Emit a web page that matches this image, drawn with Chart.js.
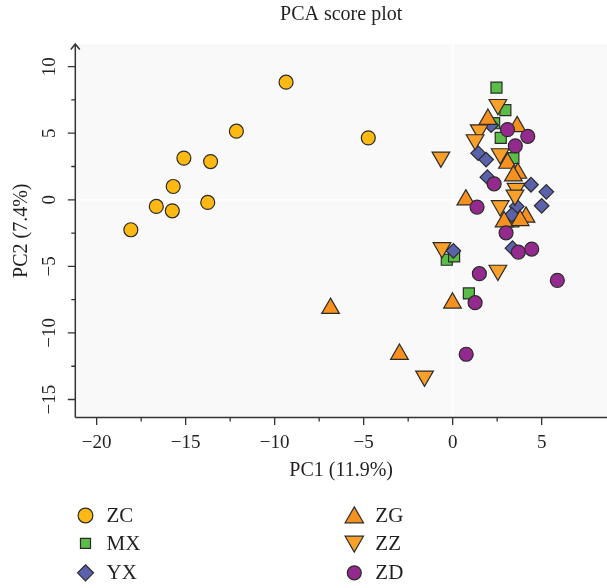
<!DOCTYPE html>
<html><head><meta charset="utf-8">
<script src="https://cdn.jsdelivr.net/npm/chart.js@4/dist/chart.umd.min.js"></script>
<style>html,body{margin:0;padding:0;background:#fff}#wrap{width:607px;height:588px;position:relative}</style>
</head><body><div id="wrap"><canvas id="c"></canvas></div>
<script>
// ---- data ----
const seriesNames = ['ZC', 'MX', 'YX', 'ZG', 'ZZ', 'ZD'];
const ZC = [[-9.36, 8.83], [-12.15, 5.15], [-15.1, 3.13], [-13.6, 2.87], [-15.7, 1.0], [-16.65, -0.5], [-15.75, -0.83], [-13.76, -0.2], [-18.08, -2.25], [-4.74, 4.65]];
const MX = [[2.46, 8.43], [2.96, 6.73], [2.33, 5.75], [2.7, 4.65], [3.41, 3.13], [3.41, -1.63], [-0.33, -4.5], [0.08, -4.25], [0.91, -7.03]];
const YX = [[2.16, 5.6], [1.43, 3.5], [1.88, 3.02], [1.95, 1.7], [4.4, 1.13], [5.26, 0.6], [3.6, -0.5], [5.0, -0.45], [3.32, -1.13], [0.04, -3.83], [3.36, -3.63]];
const ZG = [[1.98, 6.05], [3.62, 5.5], [3.08, 2.75], [3.66, 2.0], [3.41, 1.8], [0.74, 0.0], [4.12, -1.3], [2.89, -1.65], [3.79, -1.55], [-0.01, -7.75], [-6.86, -8.15], [-2.99, -11.6]];
const ZZ = [[2.54, 7.15], [1.49, 5.25], [1.26, 4.5], [2.67, 3.45], [-0.66, 3.2], [3.56, 0.85], [3.5, 0.35], [2.67, -0.45], [-0.6, -3.6], [2.54, -5.3], [-1.58, -13.25]];
const ZD = [[3.08, 5.27], [4.22, 4.77], [3.52, 4.05], [2.33, 1.2], [1.37, -0.55], [3.0, -2.48], [3.69, -3.93], [4.44, -3.7], [1.5, -5.55], [5.88, -6.05], [1.26, -7.73], [0.76, -11.6]];
const seriesData = {ZC, MX, YX, ZG, ZZ, ZD};

const xMajorTicks = [-20, -15, -10, -5, 0, 5];
const xMinorTicks = [-17.5, -12.5, -7.5, -2.5, 2.5];
const yMajorTicks = [-15, -10, -5, 0, 5, 10];
const yMinorTicks = [-12.5, -7.5, -2.5, 2.5, 7.5];
const xRange = [-21.2, 8.67];
const yRange = [-16.35, 11.7];
const chartTitle = 'PCA score plot';
const xTitle = 'PC1 (11.9%)';
const yTitle = 'PC2 (7.4%)';

// ---- styles ----
const FONT = "'Liberation Serif', 'DejaVu Serif', serif";
const INK = '#231f20';
const EDGE = '#2b2b2b';
const styles = {
  ZC: {pointStyle: 'circle',   radius: 7,    rotation: 0,   color: '#FDB913', order: 5, legendRadius: 7.4},
  MX: {pointStyle: 'rect',     radius: 7.8,  rotation: 0,   color: '#5BBD48', order: 4, legendRadius: 7.1},
  YX: {pointStyle: 'rectRot',  radius: 7.3,  rotation: 0,   color: '#5A62AC', order: 3, legendRadius: 8},
  ZG: {pointStyle: 'triangle', radius: 10.2, rotation: 0,   color: '#F6901E', order: 2, legendRadius: 10.6},
  ZZ: {pointStyle: 'triangle', radius: 10.2, rotation: 180, color: '#F9A02B', order: 1, legendRadius: 10.6},
  ZD: {pointStyle: 'circle',   radius: 7,    rotation: 0,   color: '#952A8E', order: 0, legendRadius: 7}
};
const legendMarkers = {
  ZC: [85.5, 515.5], MX: [85.5, 543.3], YX: [85.5, 572.8],
  ZG: [354.3, 517.5], ZZ: [354.3, 541.5], ZD: [354.3, 572.8]
};
const legendTextY = {ZC: 516.5, MX: 544, YX: 573.5, ZG: 516.5, ZZ: 544, ZD: 573.5};

const fmt = v => (v < 0 ? '\u2212' + Math.abs(v) : String(v));
const gridColor = ctx => (ctx.tick && ctx.tick.value === 0 ? '#ffffff' : 'rgba(0,0,0,0)');

const datasets = seriesNames.map(n => {
  const s = styles[n];
  return {
    label: n,
    data: seriesData[n].map(([x, y]) => ({x, y})),
    pointStyle: s.pointStyle,
    pointRadius: s.radius,
    pointHoverRadius: s.radius,
    pointRotation: s.rotation,
    backgroundColor: s.color,
    borderColor: EDGE,
    pointBorderWidth: 1.2,
    pointHoverBorderWidth: 1.2,
    order: s.order
  };
});

const decor = {
  id: 'decor',
  beforeDraw(chart) {
    const {ctx, chartArea: a} = chart;
    ctx.save();
    ctx.fillStyle = '#f9f9f9';
    ctx.fillRect(a.left, a.top, a.right - a.left, a.bottom - a.top);
    ctx.restore();
  },
  afterDraw(chart) {
    const {ctx, chartArea: a} = chart;
    const xs = chart.scales.x, ys = chart.scales.y;
    ctx.save();
    ctx.strokeStyle = '#333';
    ctx.lineWidth = 1.5;
    ctx.beginPath();
    ctx.moveTo(a.left, a.bottom); ctx.lineTo(a.left, a.top);
    ctx.moveTo(a.left - 4.5, a.top + 5.5); ctx.lineTo(a.left, a.top); ctx.lineTo(a.left + 4.5, a.top + 5.5);
    ctx.moveTo(a.left, a.bottom); ctx.lineTo(chart.width, a.bottom);
    ctx.stroke();
    ctx.lineWidth = 1.3;
    ctx.beginPath();
    xs.ticks.forEach(t => {
      const px = xs.getPixelForValue(t.value);
      const len = xMajorTicks.includes(t.value) ? 7.5 : 4;
      ctx.moveTo(px, a.bottom); ctx.lineTo(px, a.bottom + len);
    });
    ys.ticks.forEach(t => {
      const py = ys.getPixelForValue(t.value);
      const len = yMajorTicks.includes(t.value) ? 7.5 : 4;
      ctx.moveTo(a.left, py); ctx.lineTo(a.left - len, py);
    });
    ctx.stroke();
    // legend
    seriesNames.forEach(n => {
      const s = styles[n];
      const [lx, ly] = legendMarkers[n];
      ctx.fillStyle = s.color;
      ctx.strokeStyle = EDGE;
      ctx.lineWidth = 1.2;
      Chart.helpers.drawPoint(ctx, {pointStyle: s.pointStyle, rotation: s.rotation, radius: s.legendRadius, borderWidth: 1.2}, lx, ly);
      ctx.fillStyle = INK;
      ctx.font = '21px ' + FONT;
      ctx.textAlign = 'left';
      ctx.textBaseline = 'middle';
      ctx.fillText(n, lx + 21, legendTextY[n]);
    });
    ctx.restore();
  }
};

new Chart(document.getElementById('c'), {
  type: 'scatter',
  data: {datasets},
  options: {
    responsive: true,
    maintainAspectRatio: false,
    animation: false,
    events: [],
    layout: {autoPadding: false, padding: {left: 0, right: 0, top: 0, bottom: 100.5}},
    plugins: {
      legend: {display: false},
      tooltip: {enabled: false},
      title: {
        display: true, text: chartTitle, fullSize: false, color: INK,
        font: {family: FONT, size: 20, weight: 'normal'},
        padding: {top: 3, bottom: 17}
      }
    },
    scales: {
      x: {
        type: 'linear', min: xRange[0], max: xRange[1],
        afterBuildTicks: s => { s.ticks = [...xMajorTicks, ...xMinorTicks].sort((p, q) => p - q).map(v => ({value: v})); },
        afterFit: s => { s.height = 70; s.paddingLeft = 0; s.paddingRight = 0; },
        ticks: {
          autoSkip: false, maxRotation: 0, minRotation: 0, padding: 14, color: INK,
          font: {family: FONT, size: 19},
          callback: v => (xMajorTicks.includes(v) ? fmt(v) : '')
        },
        grid: {drawTicks: false, color: gridColor, lineWidth: 1.5},
        border: {display: false},
        title: {display: true, text: xTitle, color: INK, font: {family: FONT, size: 20}, padding: {top: 0, bottom: 5}}
      },
      y: {
        type: 'linear', min: yRange[0], max: yRange[1],
        afterBuildTicks: s => { s.ticks = [...yMajorTicks, ...yMinorTicks].sort((p, q) => p - q).map(v => ({value: v})); },
        afterFit: s => { s.width = 75.3; s.paddingTop = 0; s.paddingBottom = 0; },
        ticks: {
          autoSkip: false, minRotation: 90, maxRotation: 90, crossAlign: 'center', padding: 10.4, color: INK,
          font: {family: FONT, size: 19},
          callback: v => (yMajorTicks.includes(v) ? fmt(v) : '')
        },
        grid: {drawTicks: false, color: gridColor, lineWidth: 1.5},
        border: {display: false},
        title: {display: true, text: yTitle, color: INK, font: {family: FONT, size: 20}, padding: {top: 10, bottom: 0}}
      }
    }
  },
  plugins: [decor]
});
</script>
</body></html>
